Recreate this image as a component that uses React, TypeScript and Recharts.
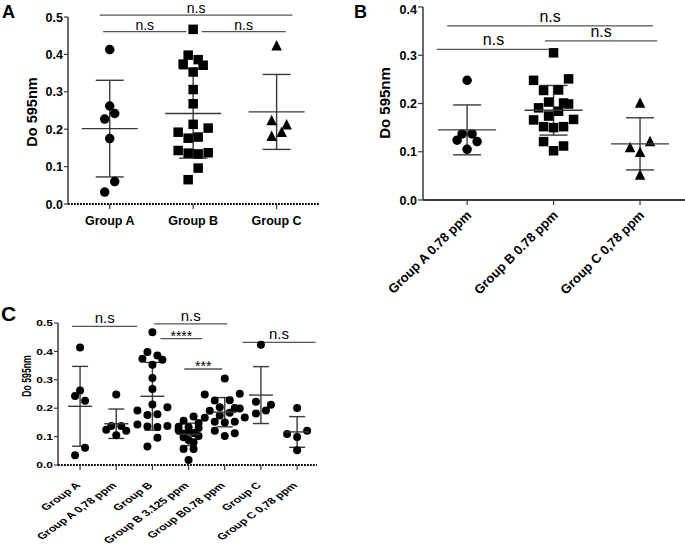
import {
  ErrorBar,
  ReferenceLine,
  Scatter,
  ScatterChart,
  XAxis,
  YAxis,
} from "recharts";

const FONT = '"Liberation Sans", Arial, Helvetica, sans-serif';
const INK = "#000";
const LINE = "#3a3a3a";

// Panel A
const aCategories = ["Group A", "Group B", "Group C"];
const aGroupA = [0.413, 0.262, 0.242, 0.227, 0.175, 0.06, 0.032];
const aGroupASpread = [0, 0, 1, -1, 0, 1, -1];
const aGroupB = [
  0.467, 0.398, 0.386, 0.374, 0.371, 0.353, 0.306, 0.268, 0.213, 0.203, 0.192,
  0.179, 0.176, 0.143, 0.137, 0.136, 0.134, 0.096, 0.065,
];
const aGroupBSpread = [0, -1, 1, -2, 2, 0, 0, 0, 0, 3, -3, 1, -1, -3, 3, -1, 1, 1, -1];
const aGroupC = [0.423, 0.223, 0.212, 0.192, 0.181];
const aGroupCSpread = [0, -1, 2, 1, -1];
const aTicks = [0, 0.1, 0.2, 0.3, 0.4, 0.5];
const aComparisons = [
  { from: -0.12, to: 2.19, y: 0.505, text: "n.s" },
  { from: -0.08, to: 0.92, y: 0.461, text: "n.s" },
  { from: 1.1, to: 2.11, y: 0.461, text: "n.s" },
];

// Panel B
const bCategories = ["Group A 0.78 ppm", "Group B 0.78 ppm", "Group C 0,78 ppm"];
const bGroupA = [0.248, 0.137, 0.137, 0.124, 0.121, 0.105];
const bGroupASpread = [0, -1, 1, -2, 2, 0];
const bGroupB = [
  0.305, 0.251, 0.248, 0.228, 0.227, 0.203, 0.201, 0.199, 0.191, 0.184, 0.174,
  0.167, 0.166, 0.152, 0.152, 0.15, 0.121, 0.112, 0.102,
];
const bGroupBSpread = [0, 3, -4, 1, -2, -1, 2, 3, -3, 1, -1, 4, -4, -2, 2, 0, -2, 2, 0];
const bGroupC = [0.201, 0.121, 0.109, 0.099, 0.052];
const bGroupCSpread = [0, 2, -2, 0, 0];
const bTicks = [0, 0.1, 0.2, 0.3, 0.4];
const bComparisons = [
  { from: -0.23, to: 2.15, y: 0.361, text: "n.s" },
  { from: -0.35, to: 0.96, y: 0.312, text: "n.s" },
  { from: 0.9, to: 2.2, y: 0.33, text: "n.s" },
];

// Panel C
const cCategories = [
  "Group A",
  "Group A 0,78 ppm",
  "Group B",
  "Group B 3.125 ppm",
  "Group B0.78 ppm",
  "Group C",
  "Group C 0,78 ppm",
];
const cGroupA = [0.414, 0.262, 0.243, 0.226, 0.061, 0.034];
const cGroupASpread = [0, 0, -1, 1, 1, -1];
const cGroupB3125 = [
  0.171, 0.156, 0.148, 0.135, 0.133, 0.13, 0.122, 0.118, 0.113, 0.11, 0.102,
  0.098, 0.088, 0.08, 0.056, 0.056, 0.018,
];
const cGroupB3125Spread = [1, -1, 2, -2, 0, 2, -2, 0, 1, -1, 2, -1, 0, 1, -1, 1, 0];
const cTicks = [0, 0.1, 0.2, 0.3, 0.4, 0.5];
const cComparisons = [
  { from: -0.22, to: 1.58, y: 0.488, text: "n.s" },
  { from: 2.05, to: 4.07, y: 0.497, text: "n.s" },
  { from: 2.22, to: 3.38, y: 0.445, text: "****" },
  { from: 2.88, to: 3.93, y: 0.338, text: "***" },
  { from: 4.49, to: 6.51, y: 0.432, text: "n.s" },
];

type Shape = "circle" | "square" | "triangle";
type Group = { values: number[]; spread: number[]; shape: Shape };
type Comparison = { from: number; to: number; y: number; text: string };

const stats = (values: number[]) => {
  const mean = values.reduce((s, v) => s + v, 0) / values.length;
  const sd = Math.sqrt(
    values.reduce((s, v) => s + (v - mean) ** 2, 0) / (values.length - 1)
  );
  return { mean, sd };
};

const marker = (shape: Shape, size: number, slot: number) => (props: any) => {
  const { cx, cy, payload } = props;
  if (cx == null || cy == null) return <g />;
  const x = cx + (payload.spread || 0) * slot;
  const h = size / 2;
  if (shape === "square")
    return <rect x={x - h} y={cy - h} width={size} height={size} fill={INK} />;
  if (shape === "triangle")
    return (
      <polygon
        points={`${x},${cy - h - 1} ${x - h - 0.5},${cy + h} ${x + h + 0.5},${cy + h}`}
        fill={INK}
      />
    );
  return <circle cx={x} cy={cy} r={h} fill={INK} />;
};

const meanLine = (half: number) => (props: any) => {
  const { cx, cy } = props;
  if (cx == null || cy == null) return <g />;
  return (
    <line x1={cx - half} x2={cx + half} y1={cy} y2={cy} stroke={LINE} strokeWidth={1.4} />
  );
};

type PanelProps = {
  width: number;
  height: number;
  plotTop: number;
  plotRight: number;
  yWidth: number;
  xHeight: number;
  xDomain: [number, number];
  yTicks: number[];
  categories: string[];
  groups: Group[];
  comparisons: Comparison[];
  dotted: boolean;
  rotate: boolean;
  squish: number;
  tickFont: number;
  catFont: number;
  sigFont: number;
  sigGap: number;
  symbol: number;
  meanHalf: number;
  capHalf: number;
  yTickSize: number;
  labelShift: [number, number];
};

function Panel(p: PanelProps) {
  const yMax = p.yTicks[p.yTicks.length - 1];

  const CatTick = (props: any) => {
    const { x, y, payload } = props;
    const label = p.categories[payload.value];
    if (!p.rotate)
      return (
        <text x={x} y={y} dy="0.71em" textAnchor="middle" fontSize={p.catFont}
          fontWeight="bold" fontFamily={FONT} fill={INK}>
          {label}
        </text>
      );
    return (
      <text
        transform={`translate(${x + p.labelShift[0]},${y + p.labelShift[1]}) scale(1,${p.squish}) rotate(-45)`}
        textAnchor="end" fontSize={p.catFont} fontWeight="bold" fontFamily={FONT} fill={INK}>
        {label}
      </text>
    );
  };

  const ValTick = (props: any) => {
    const { x, y, payload } = props;
    return (
      <text transform={`translate(${x},${y}) scale(1,${p.squish})`} dy="0.36em"
        textAnchor="end" fontSize={p.tickFont} fontWeight="bold" fontFamily={FONT} fill={INK}>
        {Number(payload.value).toFixed(1)}
      </text>
    );
  };

  const sigLabel = (text: string) => (props: any) => {
    const vb = props.viewBox || {};
    const stars = text.startsWith("*");
    return (
      <text x={vb.x + vb.width / 2} y={vb.y - (stars ? -2 : p.sigGap)} textAnchor="middle"
        fontSize={stars ? p.sigFont - 1 : p.sigFont} fontFamily={FONT} fill={INK}>
        {text}
      </text>
    );
  };

  return (
    <ScatterChart
      width={p.width}
      height={p.height}
      margin={{ top: p.plotTop, right: p.plotRight, bottom: 0, left: 0 }}
      style={{ overflow: "visible" }}
    >
      <XAxis
        type="number"
        dataKey="x"
        domain={p.xDomain}
        ticks={p.categories.map((_, i) => i)}
        height={p.xHeight}
        tick={CatTick}
        tickSize={5}
        tickMargin={p.rotate ? 2 : 7}
        axisLine={{
          stroke: INK,
          strokeWidth: p.dotted ? 2 : 1.5,
          strokeDasharray: p.dotted ? "1.8 1.2" : undefined,
        }}
        tickLine={{ stroke: LINE, strokeWidth: 1.2 }}
        allowDataOverflow
      />
      <YAxis
        type="number"
        dataKey="y"
        domain={[0, yMax]}
        ticks={p.yTicks}
        width={p.yWidth}
        tick={ValTick}
        tickSize={p.yTickSize}
        tickMargin={1}
        axisLine={{ stroke: LINE, strokeWidth: 1.5 }}
        tickLine={{ stroke: LINE, strokeWidth: 1.2 }}
        allowDataOverflow
      />
      {p.groups.map((g, i) => (
        <Scatter
          key={`pts-${i}`}
          data={g.values.map((v, k) => ({ x: i, y: v, spread: g.spread[k] }))}
          shape={marker(g.shape, p.symbol, 5)}
          isAnimationActive={false}
        />
      ))}
      {p.groups.map((g, i) => {
        const { mean, sd } = stats(g.values);
        return (
          <Scatter
            key={`sum-${i}`}
            data={[{ x: i, y: mean, sd }]}
            shape={meanLine(p.meanHalf)}
            isAnimationActive={false}
          >
            <ErrorBar dataKey="sd" direction="y" width={p.capHalf} stroke={LINE}
              strokeWidth={1.4} isAnimationActive={false} />
          </Scatter>
        );
      })}
      {p.comparisons.map((c, i) => (
        <ReferenceLine
          key={`cmp-${i}`}
          segment={[{ x: c.from, y: c.y }, { x: c.to, y: c.y }]}
          stroke="#555"
          strokeWidth={1.3}
          ifOverflow="visible"
          label={{ content: sigLabel(c.text) }}
        />
      ))}
    </ScatterChart>
  );
}

const letterStyle = (left: number, top: number, size: number): React.CSSProperties => ({
  position: "absolute",
  left,
  top,
  fontFamily: FONT,
  fontWeight: "bold",
  fontSize: size,
  lineHeight: 1,
});

const yLabelStyle = (cx: number, cy: number, size: number, squish: number): React.CSSProperties => ({
  position: "absolute",
  left: cx,
  top: cy,
  fontFamily: FONT,
  fontWeight: "bold",
  fontSize: size,
  lineHeight: 1,
  whiteSpace: "nowrap",
  transform: `translate(-50%,-50%) scaleY(${squish}) rotate(-90deg)`,
});

export default function App() {
  return (
    <div style={{ position: "absolute", left: 0, top: 0, width: 685, height: 544, background: "#fff", overflow: "hidden" }}>
      <div style={{ position: "absolute", left: 0, top: 0 }}>
        <Panel
          width={330} height={235} plotTop={17} plotRight={10} yWidth={68} xHeight={31}
          xDomain={[-0.5, 2.52]} yTicks={aTicks} categories={aCategories}
          groups={[
            { values: aGroupA, spread: aGroupASpread, shape: "circle" },
            { values: aGroupB, spread: aGroupBSpread, shape: "square" },
            { values: aGroupC, spread: aGroupCSpread, shape: "triangle" },
          ]}
          comparisons={aComparisons} dotted rotate={false} squish={1}
          tickFont={12.5} catFont={12.5} sigFont={14} sigGap={2} symbol={9.5} meanHalf={28} capHalf={14}
          yTickSize={4} labelShift={[0, 0]}
        />
      </div>
      <div style={{ position: "absolute", left: 360, top: 0 }}>
        <Panel
          width={325} height={300} plotTop={7} plotRight={0} yWidth={63} xHeight={100}
          xDomain={[-0.51, 2.52]} yTicks={bTicks} categories={bCategories}
          groups={[
            { values: bGroupA, spread: bGroupASpread, shape: "circle" },
            { values: bGroupB, spread: bGroupBSpread, shape: "square" },
            { values: bGroupC, spread: bGroupCSpread, shape: "triangle" },
          ]}
          comparisons={bComparisons} dotted={false} rotate squish={1}
          tickFont={12.5} catFont={13} sigFont={16} sigGap={4} symbol={9.5} meanHalf={29} capHalf={14}
          yTickSize={5} labelShift={[5, 9]}
        />
      </div>
      <div style={{ position: "absolute", left: 0, top: 300 }}>
        <Panel
          width={330} height={244} plotTop={23} plotRight={13} yWidth={58} xHeight={79}
          xDomain={[-0.61, 6.55]} yTicks={cTicks} categories={cCategories}
          groups={[
            { values: cGroupA, spread: cGroupASpread, shape: "circle" },
            { values: bGroupA, spread: bGroupASpread, shape: "circle" },
            { values: aGroupB, spread: aGroupBSpread, shape: "circle" },
            { values: cGroupB3125, spread: cGroupB3125Spread, shape: "circle" },
            { values: bGroupB, spread: bGroupBSpread, shape: "circle" },
            { values: aGroupC, spread: aGroupCSpread, shape: "circle" },
            { values: bGroupC, spread: bGroupCSpread, shape: "circle" },
          ]}
          comparisons={cComparisons} dotted rotate squish={0.72}
          tickFont={12} catFont={12.5} sigFont={15} sigGap={3} symbol={8} meanHalf={12} capHalf={8}
          yTickSize={4} labelShift={[1, 14]}
        />
      </div>
      <div style={letterStyle(2, 3, 18)}>A</div>
      <div style={letterStyle(354, 3, 18)}>B</div>
      <div style={letterStyle(1, 303, 21)}>C</div>
      <div style={yLabelStyle(32, 112, 14.5, 1)}>Do 595nm</div>
      <div style={yLabelStyle(384, 103, 15, 1)}>Do 595nm</div>
      <div style={yLabelStyle(27, 376, 12, 0.72)}>Do 595nm</div>
    </div>
  );
}
